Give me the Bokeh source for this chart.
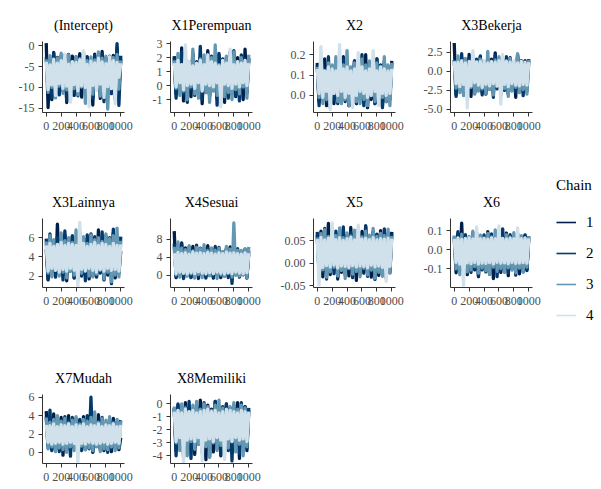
from bokeh.plotting import figure
from bokeh.layouts import row, column
from bokeh.models import Range1d, FixedTicker, PrintfTickFormatter, Legend, LegendItem
from bokeh.embed import file_html
from bokeh.resources import INLINE

# ---------------- data (thinned MCMC draws, every 25th iteration) ----------------
iterations = list(range(0, 1001, 25))
chain_names = ["1", "2", "3", "4"]
chain_colors = ["#011f4b", "#03396c", "#6497b1", "#d1e1ec"]
params = ["(Intercept)", "X1Perempuan", "X2", "X3Bekerja", "X3Lainnya",
          "X4Sesuai", "X5", "X6", "X7Mudah", "X8Memiliki"]

intercept = [
    [0.6, -14.8, -3.4, -12.9, -1.6, -9.9, -2.8, -11.5, -3.9, -10.2,
     -2.2, -13.6, -3.1, -9.6, -2.5, -11.9, -4.0, -10.7, -1.9, -12.3,
     -3.3, -9.8, -2.6, -11.1, -3.7, -14.2, -2.0, -10.4, -3.0, -12.6,
     -1.4, -9.7, -2.9, -11.4, -3.6, -10.1, -2.3, -12.8, -0.4, -10.6, -3.2],
    [-2.7, -10.3, -3.8, -12.4, -1.8, -9.5, -3.0, -11.8, -2.4, -10.9,
     -3.5, -13.1, -2.1, -10.0, -4.1, -11.3, -2.6, -12.0, -3.2, -9.9,
     -1.7, -11.7, -2.9, -10.5, -3.9, -12.7, -2.3, -10.2, -3.4, -11.0,
     -2.0, -13.4, -3.1, -9.8, -2.5, -11.5, -3.7, -10.8, 0.5, -14.3, -2.4],
    [-3.3, -11.2, -2.4, -10.0, -3.9, -12.5, -2.9, -9.7, -1.8, -11.4,
     -3.5, -10.6, -2.2, -12.9, -3.8, -10.3, -2.6, -11.8, -3.1, -9.9,
     -2.0, -13.8, -3.6, -10.9, -2.7, -11.6, -3.4, -10.1, -1.5, -12.1,
     -3.0, -11.0, -2.5, -15.2, -3.7, -9.6, -2.8, -11.3, -2.1, -10.4, -3.5],
    [-3.9, -10.5, -4.6, -9.4, -3.2, -11.9, -4.2, -9.1, -3.6, -10.2,
     -2.0, -9.7, -4.4, -13.5, -3.8, -9.3, -4.0, -10.8, -3.4, -9.6,
     -1.2, -10.0, -4.5, -14.6, -3.7, -9.5, -4.1, -10.7, -3.0, -9.2,
     -3.9, -12.4, -4.3, -9.8, -2.6, -10.3, -3.6, -13.9, -4.0, -7.5, -4.2],
]
x1_perempuan = [
    [2.1, -0.6, 1.6, -0.2, 2.7, -1.1, 1.9, -0.4, 1.4, -0.8,
     2.3, 0.0, 1.7, -0.5, 2.0, -1.3, 1.5, -0.3, 2.5, -0.7,
     1.8, -0.1, 1.3, -0.9, 2.2, -0.4, 1.9, -1.2, 1.6, -0.2,
     2.4, -0.6, 1.5, -0.8, 2.0, -0.3, 1.7, -1.0, 2.6, -0.5, 1.9],
    [2.0, -0.9, 1.5, -0.1, 2.4, -0.6, 1.8, -1.2, 1.3, -0.3,
     2.2, -0.7, 1.6, -0.2, 2.8, -1.0, 1.9, -0.5, 1.4, -0.8,
     2.1, -0.2, 1.7, -1.4, 2.3, -0.4, 1.5, -0.6, 2.0, -0.9,
     1.8, -0.3, 2.5, -0.7, 1.6, -1.1, 2.2, -0.2, 1.9, -0.5, 2.0],
    [1.8, -0.2, 2.3, -0.7, 1.5, -0.4, 2.0, -1.0, 1.7, -0.1,
     2.6, -0.6, 1.4, -0.9, 1.9, -0.3, 2.2, -0.5, 1.6, -1.2,
     2.0, -0.4, 2.9, -0.7, 1.5, -0.2, 1.8, -0.8, 2.1, -0.5,
     1.3, -1.0, 2.4, -0.3, 1.7, -0.6, 2.0, -0.1, 1.6, -0.9, 2.2],
    [1.6, -0.1, 1.8, 0.2, 1.5, -0.3, 2.9, 0.0, 1.7, 0.1,
     1.4, -0.2, 1.6, 0.2, 1.8, -0.4, 1.5, 0.1, 2.2, 0.0,
     1.7, -0.1, 1.6, 0.2, 1.4, -1.5, 1.8, 0.1, 1.6, 0.0,
     2.6, -0.2, 1.5, 0.1, 1.7, -0.1, 1.6, 0.2, 1.8, 0.0, 1.6],
]
x2 = [
    [0.16, -0.03, 0.13, 0.00, 0.18, -0.05, 0.15, -0.02, 0.12, -0.04,
     0.17, 0.01, 0.14, -0.03, 0.19, -0.01, 0.15, -0.05, 0.13, -0.02,
     0.17, -0.04, 0.14, 0.00, 0.16, -0.03, 0.20, -0.06, 0.13, -0.02,
     0.15, -0.04, 0.18, -0.01, 0.14, -0.05, 0.16, -0.03, 0.13, -0.02, 0.17],
    [0.15, -0.05, 0.17, -0.01, 0.13, -0.03, 0.19, -0.06, 0.14, -0.02,
     0.16, -0.04, 0.12, 0.00, 0.18, -0.03, 0.15, -0.05, 0.13, -0.01,
     0.17, -0.04, 0.15, -0.02, 0.20, -0.05, 0.14, -0.03, 0.16, -0.01,
     0.13, -0.04, 0.18, -0.02, 0.15, -0.06, 0.17, -0.03, 0.14, -0.01, 0.16],
    [0.14, -0.01, 0.17, -0.04, 0.12, -0.02, 0.16, -0.05, 0.15, 0.01,
     0.19, -0.03, 0.13, -0.04, 0.15, -0.02, 0.22, -0.05, 0.14, -0.01,
     0.16, -0.03, 0.12, -0.04, 0.18, -0.02, 0.15, -0.05, 0.17, 0.00,
     0.13, -0.03, 0.16, -0.04, 0.14, -0.01, 0.19, -0.03, 0.15, -0.05, 0.16],
    [0.13, 0.01, 0.24, -0.01, 0.12, 0.02, 0.14, -0.07, 0.13, 0.01,
     0.12, 0.00, 0.25, 0.02, 0.13, -0.01, 0.14, 0.01, 0.12, -0.06,
     0.13, 0.00, 0.21, 0.02, 0.14, 0.01, 0.12, -0.01, 0.13, 0.00,
     0.22, 0.02, 0.12, -0.05, 0.14, 0.01, 0.13, 0.00, 0.12, 0.01, 0.13],
]
x3_bekerja = [
    [3.7, -3.1, 1.2, -2.4, 1.8, -2.9, 0.9, -2.1, 2.2, -3.3,
     1.4, -2.6, 1.0, -2.0, 1.9, -2.8, 1.3, -3.0, 0.8, -2.3,
     1.6, -2.7, 2.4, -2.1, 1.1, -3.2, 1.5, -2.5, 0.7, -2.9,
     1.8, -2.2, 1.2, -3.4, 2.0, -2.4, 1.0, -2.7, 1.4, -2.0, 1.6],
    [1.5, -3.3, 0.9, -2.0, 2.3, -2.7, 1.3, -3.0, 1.8, -2.2,
     0.8, -2.9, 1.6, -2.4, 2.0, -3.1, 1.1, -2.6, 1.7, -2.1,
     1.2, -3.4, 2.1, -2.3, 0.9, -2.8, 1.5, -2.0, 1.9, -3.0,
     1.3, -2.5, 1.0, -2.7, 2.2, -2.2, 1.4, -3.2, 1.1, -2.6, 1.3],
    [1.4, -2.2, 2.0, -2.8, 1.1, -3.2, 1.7, -2.5, 0.8, -2.1,
     2.1, -3.0, 1.3, -2.6, 1.6, -2.3, 1.0, -2.9, 2.6, -2.4,
     1.2, -3.1, 1.5, -2.0, 1.9, -2.7, 0.9, -2.3, 1.4, -3.3,
     1.7, -2.6, 1.1, -2.1, 2.3, -2.8, 1.3, -2.4, 0.8, -3.0, 1.5],
    [1.3, -1.6, 1.2, -2.0, 1.4, -1.7, 1.1, -4.8, 1.3, -1.9,
     2.7, -1.5, 1.2, -1.8, 1.3, -2.1, 1.4, -1.7, 1.1, -1.9,
     1.3, -1.6, 1.2, -1.9, 1.4, -4.3, 2.2, -1.7, 1.3, -2.0,
     1.2, -1.6, 1.4, -1.8, 1.1, -1.9, 1.3, -1.7, 1.2, -1.8, 1.2],
]
x3_lainnya = [
    [4.8, 1.6, 6.0, 2.4, 5.5, 1.9, 7.4, 2.7, 5.8, 2.1,
     6.3, 1.5, 5.4, 2.5, 6.1, 1.8, 5.7, 2.3, 6.6, 2.0,
     5.3, 2.6, 5.9, 1.7, 6.4, 2.2, 5.6, 1.9, 6.8, 2.4,
     5.2, 1.6, 6.2, 2.1, 5.7, 2.5, 6.5, 1.8, 5.5, 2.3, 4.6],
    [5.9, 1.7, 6.4, 2.5, 5.4, 1.9, 6.0, 2.3, 5.6, 1.6,
     6.7, 2.2, 5.3, 2.6, 6.2, 1.8, 5.8, 2.4, 6.0, 2.1,
     5.5, 1.5, 6.3, 2.7, 5.7, 2.0, 6.1, 1.9, 5.4, 2.3,
     6.6, 1.7, 5.9, 2.2, 6.0, 1.2, 6.9, 2.4, 5.6, 2.9, 6.1],
    [5.6, 2.3, 6.2, 1.9, 5.8, 2.6, 5.3, 2.0, 6.5, 2.4,
     5.7, 1.8, 6.0, 2.5, 5.5, 2.1, 6.8, 1.6, 5.9, 2.3,
     6.1, 2.7, 5.4, 2.0, 6.3, 1.9, 5.8, 2.2, 6.0, 2.6,
     5.6, 1.7, 6.4, 2.4, 5.9, 1.4, 6.2, 2.1, 7.0, 1.9, 5.7],
    [5.2, 2.5, 5.4, 2.8, 5.1, 2.6, 5.3, 2.4, 5.5, 2.7,
     5.2, 2.5, 5.4, 2.8, 5.3, 2.6, 5.2, 1.0, 7.6, 2.7,
     5.4, 2.5, 5.1, 2.8, 5.3, 2.6, 5.5, 2.4, 5.2, 2.7,
     5.4, 2.5, 5.3, 2.8, 5.1, 2.6, 5.4, 2.7, 5.2, 2.5, 5.3],
]
x4_sesuai = [
    [9.8, -0.5, 6.8, 0.3, 7.2, -0.6, 6.1, 0.2, 5.6, -0.4,
     6.4, 0.5, 5.2, -0.7, 6.0, 0.1, 5.5, -0.3, 6.6, 0.4,
     5.3, -0.6, 5.9, 0.0, 6.2, -0.5, 5.1, 0.3, 5.8, -0.2,
     6.3, -0.8, 5.4, 0.2, 5.7, -0.4, 5.0, 0.6, 5.6, -0.3, 4.8],
    [7.0, -0.3, 6.5, 0.4, 6.9, -0.7, 5.8, 0.1, 6.3, -0.5,
     5.5, 0.6, 6.7, -0.2, 5.4, 0.3, 6.1, -0.6, 5.9, 0.0,
     5.3, -0.4, 6.4, 0.5, 5.6, -0.1, 5.2, 0.2, 6.0, -0.5,
     5.7, -1.8, 5.5, 0.4, 5.9, -0.3, 5.1, 0.1, 5.8, -0.6, 5.4],
    [6.3, 0.1, 7.4, -0.4, 6.0, 0.4, 5.7, -0.2, 6.6, 0.3,
     5.4, -0.6, 6.2, 0.2, 5.9, -0.5, 6.8, 0.5, 5.5, -0.1,
     6.1, 0.3, 5.6, -0.7, 6.0, 0.1, 5.3, -0.3, 6.4, 0.4,
     5.8, -0.4, 11.6, 0.0, 5.5, -0.2, 5.5, 0.3, 5.9, -0.5, 6.3],
    [4.9, 0.4, 5.1, 0.7, 4.8, 0.5, 5.0, 0.3, 4.7, 0.6,
     5.2, 0.4, 4.9, 0.8, 5.0, 0.5, 4.8, 0.3, 5.1, 0.6,
     4.9, 0.4, 4.7, 0.7, 5.0, 0.5, 4.8, 0.3, 5.2, 0.6,
     4.9, 0.4, 5.0, 0.7, 4.8, 0.5, 4.7, 0.3, 5.0, 0.6, 4.9],
]
x5 = [
    [0.063, -0.018, 0.072, -0.030, 0.058, -0.012, 0.089, -0.025, 0.061, -0.008,
     0.068, -0.035, 0.055, -0.020, 0.075, -0.014, 0.060, -0.028, 0.080, -0.010,
     0.066, -0.038, 0.057, -0.016, 0.071, -0.022, 0.082, -0.011, 0.059, -0.031,
     0.069, -0.019, 0.064, -0.027, 0.073, -0.013, 0.056, -0.033, 0.067, -0.021, 0.070],
    [0.070, -0.027, 0.060, -0.018, 0.078, -0.035, 0.056, -0.010, 0.066, -0.023,
     0.072, -0.030, 0.059, -0.015, 0.081, -0.026, 0.063, -0.008, 0.069, -0.032,
     0.057, -0.019, 0.075, -0.024, 0.062, -0.013, 0.084, -0.029, 0.058, -0.017,
     0.071, -0.036, 0.065, -0.011, 0.060, -0.025, 0.077, -0.020, 0.064, -0.014, 0.066],
    [0.058, -0.025, 0.066, -0.014, 0.075, -0.031, 0.060, -0.019, 0.070, -0.009,
     0.062, -0.028, 0.079, -0.016, 0.057, -0.034, 0.068, -0.012, 0.061, -0.024,
     0.074, -0.018, 0.065, -0.030, 0.059, -0.011, 0.072, -0.026, 0.063, -0.015,
     0.078, -0.033, 0.060, -0.020, 0.067, -0.029, 0.062, -0.010, 0.076, -0.022, 0.061],
    [0.054, -0.048, 0.058, -0.009, 0.052, -0.005, 0.056, -0.008, 0.090, -0.004,
     0.053, -0.010, 0.057, -0.006, 0.051, -0.007, 0.055, -0.009, 0.058, -0.005,
     0.052, -0.008, 0.085, -0.006, 0.054, -0.007, 0.056, -0.010, 0.053, -0.004,
     0.057, -0.008, 0.052, -0.006, 0.055, -0.009, 0.054, -0.040, 0.056, -0.007, 0.055],
]
x6 = [
    [0.060, -0.120, 0.085, -0.095, 0.140, -0.110, 0.070, -0.130, 0.055, -0.085,
     0.090, -0.105, 0.065, -0.140, 0.075, -0.090, 0.050, -0.115, 0.095, -0.100,
     0.068, -0.150, 0.058, -0.092, 0.080, -0.118, 0.062, -0.105, 0.088, -0.135,
     0.072, -0.098, 0.054, -0.112, 0.082, -0.125, 0.066, -0.094, 0.078, -0.108, 0.060],
    [0.070, -0.060, 0.095, -0.110, 0.065, -0.125, 0.080, -0.090, 0.058, -0.118,
     0.072, -0.100, 0.090, -0.135, 0.062, -0.105, 0.078, -0.088, 0.068, -0.128,
     0.083, -0.096, 0.060, -0.140, 0.074, -0.108, 0.110, -0.092, 0.066, -0.120,
     0.079, -0.100, 0.057, -0.132, 0.086, -0.098, 0.064, -0.115, 0.076, -0.105, 0.070],
    [0.075, -0.100, 0.062, -0.130, 0.082, -0.092, 0.058, -0.115, 0.070, -0.105,
     0.098, -0.088, 0.064, -0.122, 0.077, -0.095, 0.060, -0.110, 0.086, -0.128,
     0.068, -0.090, 0.105, -0.112, 0.072, -0.098, 0.059, -0.118, 0.080, -0.094,
     0.066, -0.106, 0.090, -0.120, 0.063, -0.096, 0.074, -0.114, 0.061, -0.090, 0.071],
    [0.058, -0.065, 0.062, -0.075, 0.055, -0.185, 0.060, -0.068, 0.063, -0.072,
     0.057, -0.066, 0.120, -0.074, 0.059, -0.069, 0.061, -0.071, 0.056, -0.067,
     0.062, -0.073, 0.058, -0.065, 0.125, -0.070, 0.060, -0.068, 0.057, -0.072,
     0.061, -0.066, 0.059, -0.071, 0.115, -0.069, 0.058, -0.067, 0.062, -0.070, 0.060],
]
x7_mudah = [
    [4.5, 0.8, 3.6, 0.3, 4.2, 0.9, 3.3, 0.4, 3.8, -0.3,
     3.5, 0.7, 4.0, 0.2, 3.2, 0.6, 3.7, 0.1, 3.4, 0.8,
     3.9, 0.3, 3.1, 0.5, 3.6, 0.0, 3.3, 0.7, 4.1, 0.4,
     3.5, 0.2, 3.0, 0.6, 3.4, 0.1, 3.7, 0.5, 3.2, 0.3, 1.6],
    [3.9, 0.5, 4.6, 0.2, 3.4, 0.7, 3.7, 0.1, 3.2, 0.6,
     3.9, 0.3, 3.5, -0.4, 3.8, 0.5, 3.3, 0.8, 3.6, 0.2,
     3.1, 0.6, 4.0, 0.4, 6.0, 0.1, 3.5, 0.7, 3.3, 0.3,
     3.8, 0.5, 3.2, 0.0, 3.6, 0.4, 3.4, 0.6, 3.3, 2.8, 3.5],
    [3.8, 0.4, 3.3, 0.6, 3.6, 0.1, 4.0, 0.5, 3.4, 0.3,
     3.7, 0.0, 3.2, 0.6, 3.5, 0.2, 3.9, 0.4, 3.1, 0.7,
     3.6, 0.3, 3.4, 0.5, 3.8, 0.2, 4.4, 0.6, 3.3, 0.1,
     3.7, 0.4, 3.5, 0.3, 3.9, 0.6, 3.2, 0.2, 3.6, 0.5, 3.4],
    [3.0, 1.1, 2.9, 0.9, 3.1, 1.0, 2.8, 1.1, 3.0, 0.9,
     2.9, 1.0, 3.1, 1.1, 2.8, 1.0, 3.0, -1.0, 2.9, 1.0,
     3.1, 0.9, 2.8, 1.1, 3.0, 1.0, 2.9, 0.9, 3.1, 1.0,
     2.8, 1.1, 3.0, 0.9, 2.9, 1.0, 3.1, 1.1, 2.8, 1.0, 3.0],
]
x8_memiliki = [
    [-0.4, -3.6, -0.1, -2.9, -0.6, -4.1, 0.1, -3.3, -0.3, -2.8,
     -0.8, -3.9, -0.2, -3.1, 0.3, -3.5, -0.5, -4.3, -0.1, -2.9,
     -0.4, -3.7, 0.2, -3.2, -0.6, -4.0, -0.2, -3.4, 0.0, -2.8,
     -0.5, -3.8, -0.3, -3.0, 0.1, -4.2, -0.4, -3.3, -0.2, -3.6, -0.5],
    [-0.3, -4.0, 0.0, -3.1, -0.5, -3.8, -0.2, -2.9, 0.2, -4.2,
     -0.4, -3.4, -0.1, -3.0, -0.6, -3.7, 0.1, -3.2, -0.3, -4.1,
     -0.5, -2.8, 0.2, -3.5, -0.2, -3.9, -0.4, -3.1, 0.0, -3.6,
     -0.3, -4.4, -0.1, -3.2, -0.5, -3.8, 0.1, -3.0, -0.2, -3.4, -0.3],
    [-0.2, -3.0, -0.5, -3.6, 0.0, -3.2, -0.3, -4.0, -0.6, -2.9,
     -0.1, -3.5, 0.2, -3.1, -0.4, -3.8, 0.0, -3.3, -0.2, -4.1,
     -0.5, -3.0, -0.1, -3.6, 0.3, -3.2, -0.3, -3.9, -0.6, -3.4,
     -0.2, -2.9, 0.1, -3.7, -0.4, -3.1, -0.1, -4.0, -0.3, -3.3, -0.6],
    [-0.6, -2.9, -0.5, -2.6, -0.7, -4.5, -0.4, -2.8, -0.6, -2.7,
     -0.5, -2.9, -0.7, -2.6, -0.6, -4.4, -0.5, -2.8, -0.4, -2.7,
     -0.6, -2.9, -0.5, -2.6, -0.7, -2.8, -0.6, -4.3, -0.4, -2.7,
     -0.5, -2.9, -0.6, -2.6, -0.7, -2.8, -0.5, -2.7, -0.6, -2.9, -0.6],
]
series = [intercept, x1_perempuan, x2, x3_bekerja, x3_lainnya,
          x4_sesuai, x5, x6, x7_mudah, x8_memiliki]
for s in series:
    for ch in s:
        assert len(ch) == len(iterations), len(ch)

y_limits = [(-16.0, 1.0), (-1.93, 3.15), (-0.084, 0.265), (-5.4, 3.9), (0.8, 8.0),
            (-2.7, 12.6), (-0.054, 0.10), (-0.197, 0.164), (-1.2, 6.3), (-4.6, 0.73)]
y_ticks = [[-15, -10, -5, 0], [-1, 0, 1, 2, 3], [0.0, 0.1, 0.2], [-5.0, -2.5, 0.0, 2.5],
           [2, 4, 6], [0, 4, 8], [-0.05, 0.0, 0.05], [-0.1, 0.0, 0.1],
           [0, 2, 4, 6], [-4, -3, -2, -1, 0]]
y_formats = ["%.0f", "%.0f", "%.1f", "%.1f", "%.0f", "%.0f", "%.2f", "%.1f", "%.0f", "%.0f"]
x_ticks = [0, 200, 400, 600, 800, 1000]

# ---------------- layout / style ----------------
SERIF = "'Liberation Serif'"
col_w = [143, 130, 145, 135]
col_bl = [42, 27, 40, 32]
FRAME_W = 82
row_h = [183, 176, 129]
row_bt = [41, 32, 33]
frame_h = [71, 72, 71]


def panel(i, r, c):
    w, bl = col_w[c], col_bl[c]
    h, bt = row_h[r], row_bt[r]
    p = figure(width=w, height=h, output_backend="svg", toolbar_location=None,
               x_range=Range1d(-50, 1050), y_range=Range1d(*y_limits[i]),
               min_border_left=bl, min_border_right=w - bl - FRAME_W,
               min_border_top=bt, min_border_bottom=h - bt - frame_h[r],
               title=params[i])
    p.title.align = "center"
    p.title.text_font = SERIF
    p.title.text_font_size = "14px"
    p.title.text_font_style = "normal"
    p.title.text_color = "#000000"
    p.title.standoff = 18
    p.outline_line_color = None
    p.xgrid.visible = False
    p.ygrid.visible = False
    p.background_fill_color = "white"
    p.border_fill_color = "white"
    for ax in (p.xaxis[0], p.yaxis[0]):
        ax.axis_line_color = "#333333"
        ax.axis_line_width = 1
        ax.major_tick_line_color = "#333333"
        ax.major_tick_out = 4
        ax.major_tick_in = 0
        ax.minor_tick_line_color = None
        ax.major_label_text_font = SERIF
        ax.major_label_text_font_size = "12px"
        ax.major_label_text_color = "#4d4d4d"
    p.xaxis[0].major_label_standoff = 5
    p.yaxis[0].major_label_standoff = 4
    p.xaxis[0].ticker = FixedTicker(ticks=x_ticks)
    p.yaxis[0].ticker = FixedTicker(ticks=y_ticks[i])
    p.yaxis[0].formatter = PrintfTickFormatter(format=y_formats[i])
    for k in range(4):
        p.line(iterations, series[i][k], line_color=chain_colors[k],
               line_width=3.3, line_join="round")
    return p


rows = []
idx = 0
for r, ncols in enumerate([4, 4, 2]):
    figs = []
    for c in range(ncols):
        figs.append(panel(idx, r, c))
        idx += 1
    rows.append(row(*figs))

# legend panel
lg = figure(width=46, height=488, output_backend="svg", toolbar_location=None,
            x_range=Range1d(0, 1), y_range=Range1d(0, 1), min_border=0,
            x_axis_type=None, y_axis_type=None)
lg.outline_line_color = None
lg.xgrid.visible = False
lg.ygrid.visible = False
items = []
for k in range(4):
    rr = lg.line([5, 6], [5, 6], line_color=chain_colors[k], line_width=1.6)
    items.append(LegendItem(label=chain_names[k], renderers=[rr]))
legend = Legend(items=items, location=(3, 163), title="Chain")
legend.title_text_font = SERIF
legend.title_text_font_size = "15px"
legend.title_text_font_style = "normal"
legend.title_text_color = "#000000"
legend.title_standoff = 18
legend.label_text_font = SERIF
legend.label_text_font_size = "15px"
legend.label_text_color = "#000000"
legend.glyph_width = 20
legend.glyph_height = 20
legend.label_height = 20
legend.label_standoff = 10
legend.spacing = 11
legend.padding = 0
legend.margin = 0
legend.border_line_color = None
legend.background_fill_alpha = 0
lg.add_layout(legend)

layout = row(column(*rows), lg)

open("out.html", "w").write(file_html(layout, INLINE, title="MCMC trace"))
